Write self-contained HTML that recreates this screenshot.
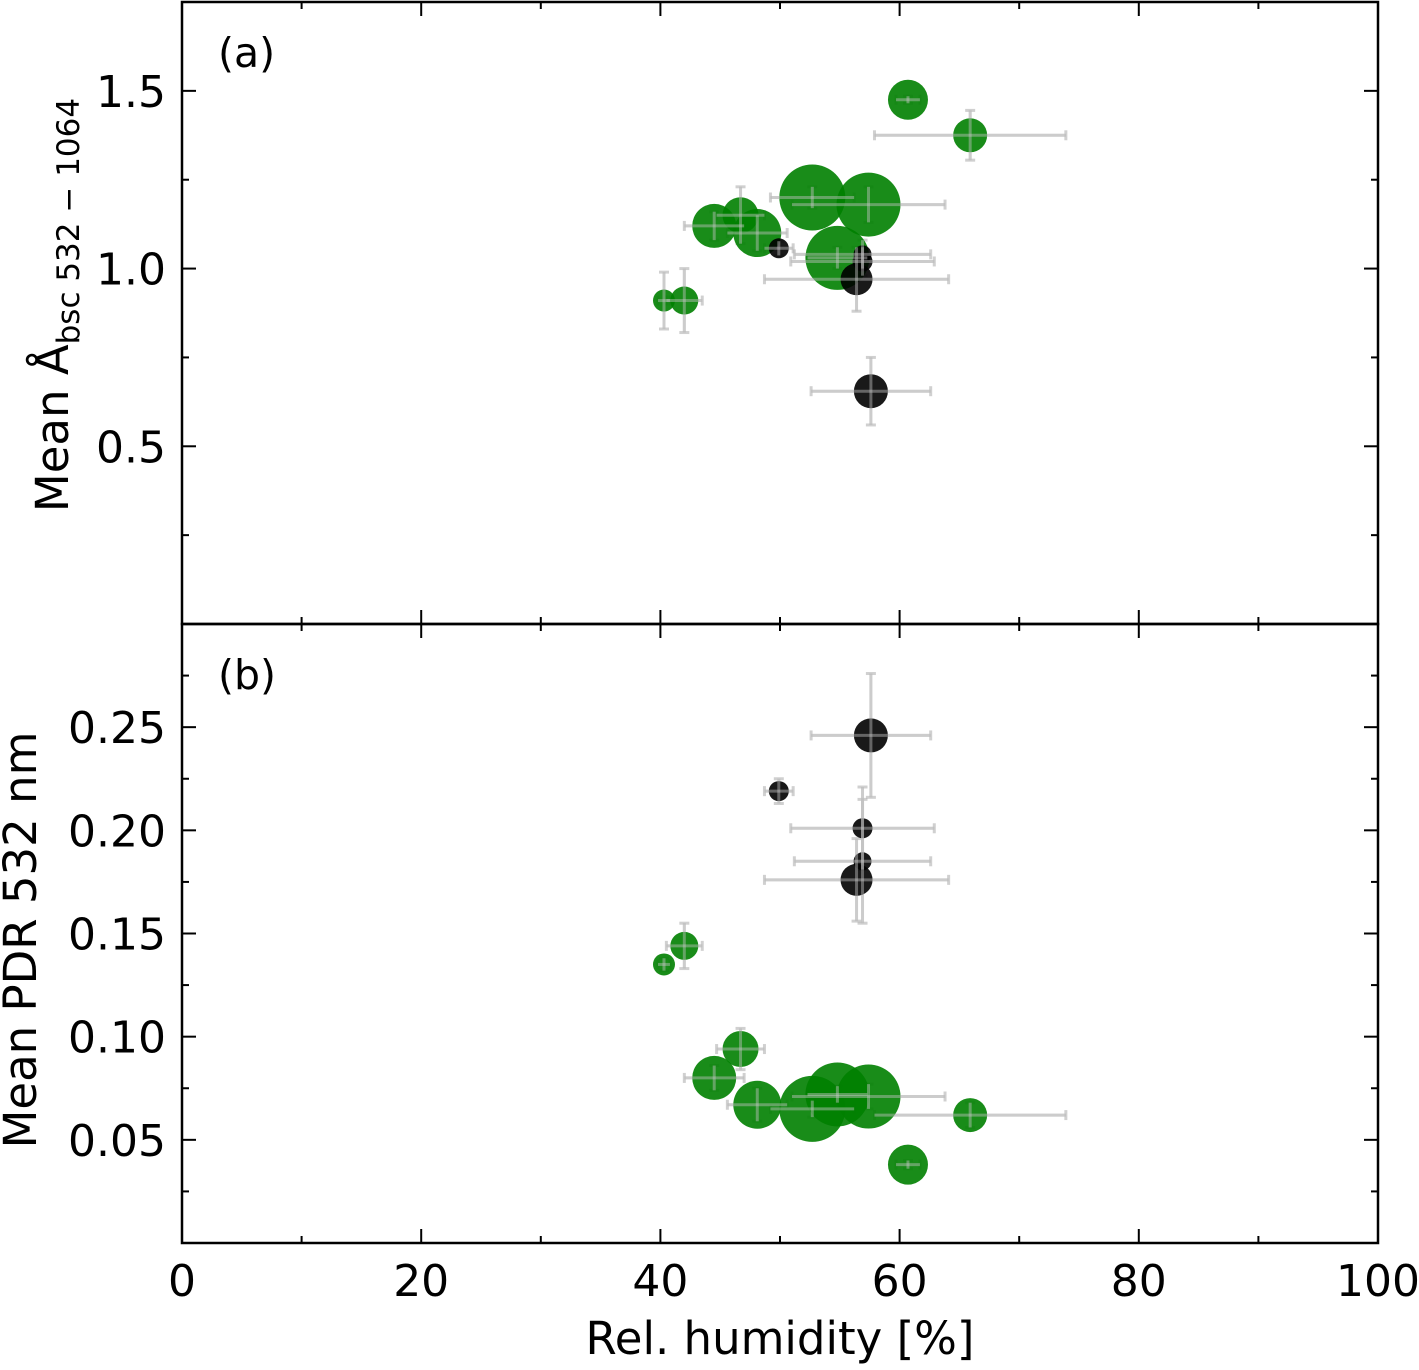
<!DOCTYPE html>
<html><head><meta charset="utf-8"><style>
body{margin:0;background:#fff}
svg text{font-family:"DejaVu Sans","Liberation Sans",sans-serif;fill:#000}
</style></head><body>
<svg id="chart" width="1419" height="1365" viewBox="0 0 1419 1365" xmlns="http://www.w3.org/2000/svg"></svg>
<script>
const rh      = [60.7, 65.9, 44.5, 46.7, 48.1, 52.7, 57.4, 54.8, 40.3, 42.0, 49.9, 56.9, 56.4, 57.6, 56.9];
const rhErr   = [1.0, 8.0, 2.5, 2.0, 2.5, 3.5, 6.4, 2.5, 0.5, 1.5, 1.2, 5.7, 7.7, 5.0, 6.0];
const angst   = [1.475, 1.375, 1.12, 1.15, 1.10, 1.20, 1.18, 1.03, 0.91, 0.91, 1.057, 1.04, 0.97, 0.655, 1.02];
const angErr  = [0.01, 0.07, 0.04, 0.08, 0.05, 0.03, 0.05, 0.03, 0.08, 0.09, 0.02, 0.04, 0.09, 0.095, 0.04];
const pdr     = [0.038, 0.062, 0.080, 0.094, 0.067, 0.065, 0.071, 0.072, 0.135, 0.144, 0.219, 0.185, 0.176, 0.246, 0.201];
const pdrErr  = [0.002, 0.006, 0.006, 0.010, 0.008, 0.004, 0.006, 0.004, 0.003, 0.011, 0.006, 0.03, 0.02, 0.03, 0.02];
const markerSize = [20, 17, 22, 18, 24, 33, 32, 32, 11, 14, 10, 9, 16, 17, 10];
const isDust  = [0,0,0,0,0,0,0,0,0,0,1,1,1,1,1];
const xTicks = [0,20,40,60,80,100];
const yTicksA = [0.5,1.0,1.5];
const yTicksB = [0.05,0.10,0.15,0.20,0.25];

const svg = document.getElementById('chart');
const NS = 'http://www.w3.org/2000/svg';
function el(tag, attrs, parent){const e=document.createElementNS(NS,tag);for(const k in attrs)e.setAttribute(k,attrs[k]);(parent||svg).appendChild(e);return e;}
const L=182,R=1378;
const X = v => L + v/100*(R-L);
const panels = [
 {name:'panel-a', top:2, bot:624, ymin:0, ymax:1.75, vals:angst, errs:angErr, ticks:yTicksA, minor:0.25, fmt:v=>v.toFixed(1), label:'(a)'},
 {name:'panel-b', top:624, bot:1243, ymin:0, ymax:0.30, vals:pdr, errs:pdrErr, ticks:yTicksB, minor:0.025, fmt:v=>v.toFixed(2), label:'(b)'}
];
panels.forEach(p=>{
  const Y = v => p.bot - (v-p.ymin)/(p.ymax-p.ymin)*(p.bot-p.top);
  const g = el('g',{});
  
  
  const eg = el('g',{stroke:'#b0b0b0','stroke-opacity':'0.6','stroke-width':3},g);
  
  
  rh.forEach((x,i)=>{
    const cx=X(x), cy=Y(p.vals[i]);
    const x1=X(x-rhErr[i]), x2=X(x+rhErr[i]);
    const y1=Y(p.vals[i]-p.errs[i]), y2=Y(p.vals[i]+p.errs[i]);
    el('line',{x1:x1,y1:cy,x2:x2,y2:cy},eg);
    el('line',{x1:x1,y1:cy-5,x2:x1,y2:cy+5},eg);
    el('line',{x1:x2,y1:cy-5,x2:x2,y2:cy+5},eg);
    el('line',{x1:cx,y1:y1,x2:cx,y2:y2},eg);
    el('line',{x1:cx-5,y1:y1,x2:cx+5,y2:y1},eg);
    el('line',{x1:cx-5,y1:y2,x2:cx+5,y2:y2},eg);
  });
  rh.forEach((x,i)=>{
    const c = el('circle',{cx:X(x),cy:Y(p.vals[i]),r:markerSize[i],fill:isDust[i]?'#000':'#007f00','fill-opacity':0.9},g);
    
    
  });
  const eg2 = el('g',{stroke:'#c8c8c8','stroke-opacity':'0.45','stroke-width':3},g);
  rh.forEach((x,i)=>{
    const cx=X(x), cy=Y(p.vals[i]);
    el('line',{x1:X(x-rhErr[i]),y1:cy,x2:X(x+rhErr[i]),y2:cy},eg2);
    el('line',{x1:cx,y1:Y(p.vals[i]-p.errs[i]),x2:cx,y2:Y(p.vals[i]+p.errs[i])},eg2);
  });
  const fr = el('rect',{x:L,y:p.top,width:R-L,height:p.bot-p.top,fill:'none',stroke:'#000','stroke-width':2.5},g);
  
  
  for(let v=p.minor; v<p.ymax-1e-9; v+=p.minor){
    const y=Y(v); const major = p.ticks.some(t=>Math.abs(t-v)<1e-6);
    const len = major?14:7;
    el('line',{x1:L,y1:y,x2:L+len,y2:y,stroke:'#000','stroke-width':2},g);
    el('line',{x1:R,y1:y,x2:R-len,y2:y,stroke:'#000','stroke-width':2},g);
  }
  p.ticks.forEach(v=>{
    const t = el('text',{x:L-16,y:Y(v)+16,'text-anchor':'end','font-size':44},g);
    t.textContent = p.fmt(v);
    
    
  });
  for(let v=10; v<100; v+=10){
    const len = v%20===0?14:7;
    el('line',{x1:X(v),y1:p.bot,x2:X(v),y2:p.bot-len,stroke:'#000','stroke-width':2},g);
    el('line',{x1:X(v),y1:p.top,x2:X(v),y2:p.top+len,stroke:'#000','stroke-width':2},g);
  }
  const lab = el('text',{x:218,y:p.top+65,'font-size':41},g);
  lab.textContent = p.label;
  
  
});
xTicks.forEach(v=>{
  const t = el('text',{x:X(v),y:1296,'text-anchor':'middle','font-size':44});
  t.textContent = v;
  
  
});
const xt = el('text',{x:780,y:1354,'text-anchor':'middle','font-size':45});
xt.textContent='Rel. humidity [%]';


const ya = el('text',{transform:'translate(68,305) rotate(-90)','text-anchor':'middle','font-size':45});
ya.innerHTML='Mean Å<tspan font-size="31" dy="11">bsc 532 − 1064</tspan>';


const yb = el('text',{transform:'translate(36,940) rotate(-90)','text-anchor':'middle','font-size':45});
yb.textContent='Mean PDR 532 nm';


</script>
</body></html>
